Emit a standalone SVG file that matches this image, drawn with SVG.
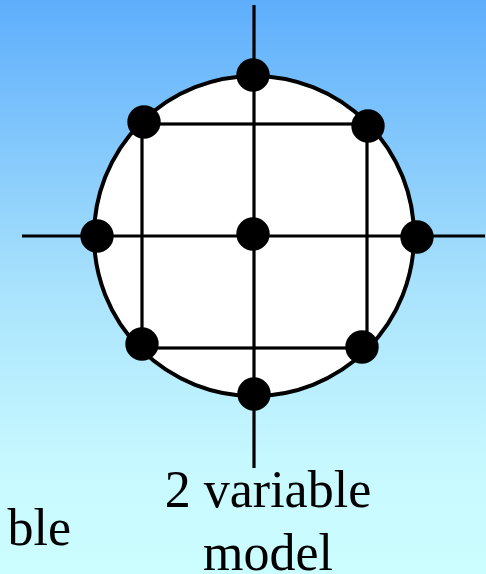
<svg xmlns="http://www.w3.org/2000/svg" width="486" height="574" viewBox="0 0 486 574">
<defs>
<linearGradient id="bg" x1="0" y1="0" x2="0" y2="1">
<stop offset="0" stop-color="#5eaefc"/>
<stop offset="0.5" stop-color="#a8e2fc"/>
<stop offset="0.8" stop-color="#c6f8ff"/>
<stop offset="1" stop-color="#ccfeff"/>
</linearGradient>
<style>
.ln{stroke:#000;stroke-width:3.2;fill:none}
.dot{fill:#000}
.t{font-family:"Liberation Serif","Times New Roman",serif;font-size:52px;fill:#000}
</style>
</defs>
<rect x="0" y="0" width="486" height="574" fill="url(#bg)"/>
<g id="region">
<circle cx="254" cy="236" r="160" fill="#fff" stroke="#000" stroke-width="4"/>
</g>
<g id="connectors">
<line class="ln" x1="254" y1="5" x2="254" y2="468"/>
<line class="ln" x1="22" y1="236" x2="485" y2="236"/>
<rect class="ln" x="142" y="124" width="225" height="224"/>
</g>
<g id="p-top"><circle class="dot" cx="253" cy="75" r="16.7"/></g>
<g id="p-bottom"><circle class="dot" cx="254" cy="394" r="16.7"/></g>
<g id="p-left"><circle class="dot" cx="97" cy="236" r="16.7"/></g>
<g id="p-right"><circle class="dot" cx="417" cy="237" r="16.7"/></g>
<g id="p-center"><circle class="dot" cx="253" cy="234" r="16.7"/></g>
<g id="p-tl"><circle class="dot" cx="144" cy="122" r="16.7"/></g>
<g id="p-tr"><circle class="dot" cx="368" cy="126" r="16.7"/></g>
<g id="p-bl"><circle class="dot" cx="142" cy="344" r="16.7"/></g>
<g id="p-br"><circle class="dot" cx="362" cy="347" r="16.7"/></g>
<g id="labels">
<text class="t" x="268" y="507" text-anchor="middle">2 variable</text>
<text class="t" x="268" y="570" text-anchor="middle">model</text>
<text class="t" x="71" y="545" text-anchor="end">ble</text>
</g>
</svg>
